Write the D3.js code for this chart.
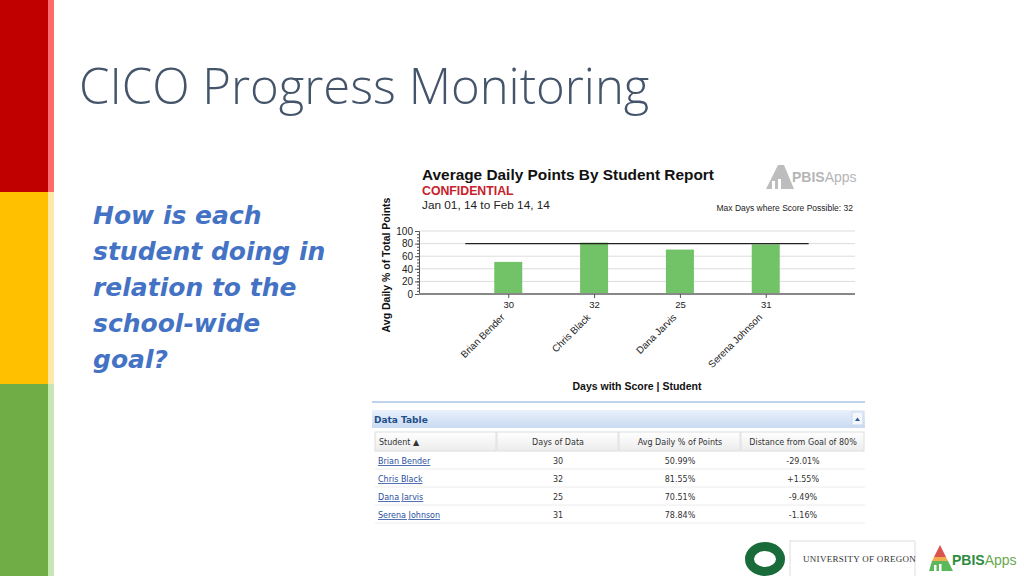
<!DOCTYPE html>
<html lang="en">
<head>
<meta charset="utf-8">
<title>CICO Progress Monitoring</title>
<script src="https://cdn.jsdelivr.net/npm/d3@7"></script>
<style>
  body { margin: 0; background: #fff; }
  svg { display: block; }
</style>
</head>
<body>
<script>
var w = 1024;
var h = 576;

// data
var students = ["Brian Bender", "Chris Black", "Dana Jarvis", "Serena Johnson"];
var daysWithScore = [30, 32, 25, 31];
var avgPct = [50.99, 81.55, 70.51, 78.84];
var distance = ["-29.01%", "+1.55%", "-9.49%", "-1.16%"];
var goal = 80;
var yTicks = [0, 20, 40, 60, 80, 100];
var tableHeads = ["Student \u25B2", "Days of Data", "Avg Daily % of Points", "Distance from Goal of 80%"];

var svg = d3.select("body").append("svg")
  .attr("width", w)
  .attr("height", h);

// left colour bands
var bands = ["#c00000", "#ffc000", "#70ad47"];
var bandLight = ["#ff6b6b", "#ffe9a8", "#c6e6b3"];
bands.forEach(function(c, i) {
  svg.append("rect").attr("x", 0).attr("y", i * h / 3)
    .attr("width", 48).attr("height", h / 3).attr("fill", c);
  svg.append("rect").attr("x", 48).attr("y", i * h / 3)
    .attr("width", 6).attr("height", h / 3).attr("fill", bandLight[i]);
});

// slide title
svg.append("text")
  .attr("x", 79).attr("y", 104)
  .attr("font-family", "Open Sans, sans-serif")
  .attr("font-weight", 300)
  .attr("font-size", 49)
  .attr("fill", "#44546a")
  .text("CICO Progress Monitoring");

var question = ["How is each", "student doing in", "relation to the", "school-wide", "goal?"];
svg.append("g").selectAll("text")
  .data(question)
  .enter().append("text")
  .attr("x", 93)
  .attr("y", function(d, i) { return 224 + i * 36; })
  .attr("font-family", "DejaVu Sans, sans-serif")
  .attr("font-weight", "bold")
  .attr("font-style", "italic")
  .attr("font-size", 25)
  .attr("fill", "#4472c4")
  .text(function(d) { return d; });

// ---- chart ----
var x0 = 419, x1 = 855, yBase = 294, yTop = 231;

var xScale = d3.scalePoint()
  .domain(d3.range(students.length))
  .range([x0, x1])
  .padding(1.04);

var yScale = d3.scaleLinear()
  .domain([0, 100])
  .range([yBase, yTop]);

var chart = svg.append("g").attr("font-family", "Liberation Sans, Arial, sans-serif");

chart.append("text").attr("x", 422).attr("y", 180)
  .attr("font-size", 15.4).attr("font-weight", "bold").attr("fill", "#111")
  .text("Average Daily Points By Student Report");
chart.append("text").attr("x", 422).attr("y", 195)
  .attr("font-size", 12.3).attr("font-weight", "bold").attr("fill", "#c8202a")
  .text("CONFIDENTIAL");
chart.append("text").attr("x", 422).attr("y", 209)
  .attr("font-size", 11.8).attr("fill", "#222")
  .text("Jan 01, 14 to Feb 14, 14");
chart.append("text").attr("x", 853).attr("y", 211)
  .attr("font-size", 8.5).attr("fill", "#222").attr("text-anchor", "end")
  .text("Max Days where Score Possible: 32");

// gray PBISApps logo
var logo1 = chart.append("g").attr("transform", "translate(764,163)");
logo1.append("path").attr("d", "M2,26 L14,2 L20,2 L30,26 Z").attr("fill", "#bdbdbd");
logo1.append("rect").attr("x", 8).attr("y", 18).attr("width", 3).attr("height", 8).attr("fill", "#fff");
logo1.append("rect").attr("x", 14).attr("y", 16).attr("width", 3).attr("height", 10).attr("fill", "#fff");
logo1.append("text").attr("x", 28).attr("y", 19)
  .attr("font-size", 14).attr("fill", "#b5b5b5").attr("font-weight", "bold")
  .text("PBIS")
  .append("tspan").attr("font-weight", "normal").text("Apps");

// grid
chart.append("g").selectAll("line")
  .data(yTicks.slice(1))
  .enter().append("line")
  .attr("x1", x0).attr("x2", x1)
  .attr("y1", function(d) { return yScale(d); })
  .attr("y2", function(d) { return yScale(d); })
  .attr("stroke", "#dcdcdc");

// bars
var barW = 28;
chart.append("g").selectAll("rect")
  .data(avgPct)
  .enter().append("rect")
  .attr("x", function(d, i) { return xScale(i) - barW / 2; })
  .attr("y", function(d) { return yScale(d); })
  .attr("width", barW)
  .attr("height", function(d) { return yScale(0) - yScale(d); })
  .attr("fill", "#72c267");

// goal line
var half = xScale.step() / 2;
chart.append("line")
  .attr("x1", xScale(0) - half).attr("x2", xScale(students.length - 1) + half)
  .attr("y1", yScale(goal)).attr("y2", yScale(goal))
  .attr("stroke", "#222").attr("stroke-width", 1.2);

// y axis
var yAxis = d3.axisLeft(yScale).tickValues(yTicks).tickSize(4).tickPadding(2);
var gy = chart.append("g")
  .attr("transform", "translate(" + x0 + ",0)")
  .call(yAxis);
gy.select(".domain").attr("stroke", "#555");
gy.selectAll("text").attr("font-size", 10).attr("fill", "#222").attr("font-family", "Liberation Sans, Arial, sans-serif");
gy.selectAll(".tick line").attr("stroke", "#555");
var gyMinor = chart.append("g")
  .attr("transform", "translate(" + x0 + ",0)")
  .call(d3.axisLeft(yScale).ticks(20).tickSize(2).tickFormat(""));
gyMinor.select(".domain").remove();
gyMinor.selectAll("line").attr("stroke", "#555");

// baseline
chart.append("line")
  .attr("x1", x0).attr("x2", x1)
  .attr("y1", yBase).attr("y2", yBase)
  .attr("stroke", "#888").attr("stroke-width", 2);

// x axis with days labels
var xAxis = d3.axisBottom(xScale)
  .tickSize(4)
  .tickFormat(function(d) { return daysWithScore[d]; });
var gx = chart.append("g")
  .attr("transform", "translate(0," + yBase + ")")
  .call(xAxis);
gx.select(".domain").remove();
gx.selectAll(".tick line").attr("stroke", "#555");
gx.selectAll("text").attr("font-size", 9.5).attr("fill", "#222").attr("font-family", "Liberation Sans, Arial, sans-serif");

// rotated student names
chart.append("g").selectAll("text")
  .data(students)
  .enter().append("text")
  .attr("transform", function(d, i) {
    return "translate(" + (xScale(i) - 3) + "," + 318 + ") rotate(-45)";
  })
  .attr("text-anchor", "end")
  .attr("font-size", 9.8).attr("fill", "#222")
  .text(function(d) { return d; });

chart.append("text")
  .attr("x", 637).attr("y", 390)
  .attr("text-anchor", "middle")
  .attr("font-size", 10.5).attr("font-weight", "bold").attr("fill", "#111")
  .text("Days with Score | Student");

chart.append("text")
  .attr("transform", "translate(390,265) rotate(-90)")
  .attr("text-anchor", "middle")
  .attr("font-size", 10.5).attr("font-weight", "bold").attr("fill", "#111")
  .text("Avg Daily % of Total Points");

// ---- data table ----
var defs = svg.append("defs");
var grad = defs.append("linearGradient").attr("id", "hdr").attr("x1", 0).attr("x2", 0).attr("y1", 0).attr("y2", 1);
grad.append("stop").attr("offset", "0%").attr("stop-color", "#e9f1fb");
grad.append("stop").attr("offset", "100%").attr("stop-color", "#c9daf1");
var grad2 = defs.append("linearGradient").attr("id", "colhdr").attr("x1", 0).attr("x2", 0).attr("y1", 0).attr("y2", 1);
grad2.append("stop").attr("offset", "0%").attr("stop-color", "#ffffff");
grad2.append("stop").attr("offset", "100%").attr("stop-color", "#ececec");

var tbl = svg.append("g").attr("font-family", "DejaVu Sans, Verdana, sans-serif");
tbl.append("line").attr("x1", 372).attr("x2", 865).attr("y1", 402).attr("y2", 402)
  .attr("stroke", "#a9c4e6").attr("stroke-width", 1.5);
tbl.append("rect").attr("x", 372).attr("y", 410).attr("width", 493).attr("height", 18)
  .attr("fill", "url(#hdr)");
tbl.append("text").attr("x", 374).attr("y", 423)
  .attr("font-size", 9).attr("font-weight", "bold").attr("fill", "#1f4f8a")
  .text("Data Table");
tbl.append("rect").attr("x", 852).attr("y", 412).attr("width", 11).attr("height", 13)
  .attr("fill", "#f4f8fd").attr("stroke", "#c9d8ec");
tbl.append("path").attr("d", "M855,421 L857.5,417.5 L860,421 Z").attr("fill", "#2a5a9a");

var colX = [375, 497, 619, 741, 865];
var headY = 432, headH = 19, rowH = 18;
tbl.append("g").selectAll("rect")
  .data(tableHeads)
  .enter().append("rect")
  .attr("x", function(d, i) { return colX[i]; })
  .attr("y", headY)
  .attr("width", function(d, i) { return colX[i + 1] - colX[i] - 1; })
  .attr("height", headH)
  .attr("fill", "url(#colhdr)")
  .attr("stroke", "#dedede");
tbl.append("g").selectAll("text")
  .data(tableHeads)
  .enter().append("text")
  .attr("x", function(d, i) { return i === 0 ? colX[0] + 4 : (colX[i] + colX[i + 1]) / 2; })
  .attr("y", headY + 13)
  .attr("text-anchor", function(d, i) { return i === 0 ? "start" : "middle"; })
  .attr("font-size", 8).attr("fill", "#333")
  .text(function(d) { return d; });

var rows = tbl.append("g").selectAll("g")
  .data(students)
  .enter().append("g")
  .attr("transform", function(d, i) { return "translate(0," + (headY + headH + i * rowH) + ")"; });
rows.append("line").attr("x1", 375).attr("x2", 865).attr("y1", rowH).attr("y2", rowH)
  .attr("stroke", "#ececec");
rows.append("text").attr("x", 378).attr("y", 13)
  .attr("font-size", 8).attr("fill", "#2a4fa0").attr("text-decoration", "underline")
  .text(function(d) { return d; });
rows.append("text").attr("x", (colX[1] + colX[2]) / 2).attr("y", 13)
  .attr("text-anchor", "middle").attr("font-size", 8).attr("fill", "#333")
  .text(function(d, i) { return daysWithScore[i]; });
rows.append("text").attr("x", (colX[2] + colX[3]) / 2).attr("y", 13)
  .attr("text-anchor", "middle").attr("font-size", 8).attr("fill", "#333")
  .text(function(d, i) { return avgPct[i].toFixed(2) + "%"; });
rows.append("text").attr("x", (colX[3] + colX[4]) / 2).attr("y", 13)
  .attr("text-anchor", "middle").attr("font-size", 8).attr("fill", "#333")
  .text(function(d, i) { return distance[i]; });

// ---- footer logos ----
var foot = svg.append("g");
foot.append("ellipse").attr("cx", 765).attr("cy", 559).attr("rx", 15.5).attr("ry", 12.5)
  .attr("fill", "none").attr("stroke", "#1a6b3a").attr("stroke-width", 9);
foot.append("line").attr("x1", 790).attr("x2", 790).attr("y1", 540).attr("y2", 576).attr("stroke", "#ddd");
foot.append("line").attr("x1", 790).attr("x2", 915).attr("y1", 541).attr("y2", 541).attr("stroke", "#ddd");
foot.append("line").attr("x1", 915).attr("x2", 915).attr("y1", 541).attr("y2", 576).attr("stroke", "#ddd");
foot.append("text").attr("x", 803).attr("y", 562)
  .attr("font-family", "Liberation Serif, serif").attr("font-size", 9).attr("fill", "#333")
  .attr("letter-spacing", 0.3)
  .text("UNIVERSITY OF OREGON");
var logo2 = foot.append("g").attr("transform", "translate(928,543)");
logo2.append("path").attr("d", "M6,14 L12,2 L18,14 Z").attr("fill", "#d9534f");
logo2.append("path").attr("d", "M4,18 L6,14 L18,14 L20,18 Z").attr("fill", "#f0ad4e");
logo2.append("path").attr("d", "M1,28 L4,18 L20,18 L25,28 Z").attr("fill", "#5cb85c");
logo2.append("rect").attr("x", 6).attr("y", 22).attr("width", 2.5).attr("height", 6).attr("fill", "#fff");
logo2.append("rect").attr("x", 11).attr("y", 21).attr("width", 2.5).attr("height", 7).attr("fill", "#fff");
logo2.append("text").attr("x", 24).attr("y", 22)
  .attr("font-family", "Liberation Sans, Arial, sans-serif")
  .attr("font-size", 14).attr("font-weight", "bold").attr("fill", "#2e8b3e")
  .text("PBIS")
  .append("tspan").attr("font-weight", "normal").attr("fill", "#6aa84f").text("Apps");
</script>
</body>
</html>
